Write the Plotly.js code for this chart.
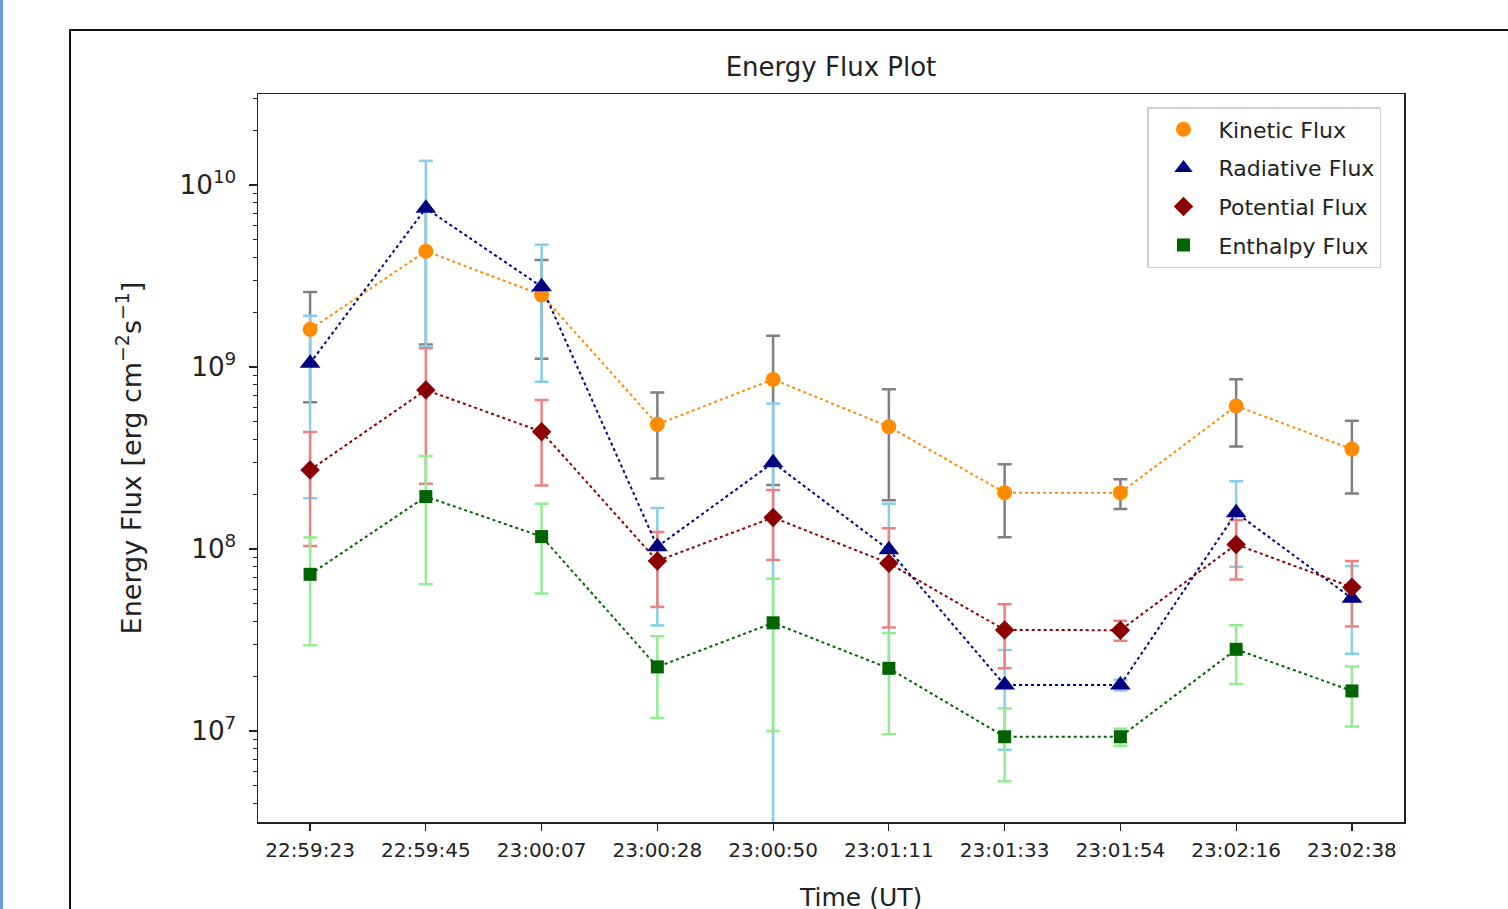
<!DOCTYPE html>
<html>
<head>
<meta charset="utf-8">
<script src="https://cdn.plot.ly/plotly-3.0.1.min.js"></script>
<style>html,body{margin:0;padding:0;background:#fff;}#chart{width:1508px;height:909px;}</style>
</head>
<body>
<div id="chart"></div>
<script>
// ---- data ----
const times = ['22:59:23','22:59:45','23:00:07','23:00:28','23:00:50','23:01:11','23:01:33','23:01:54','23:02:16','23:02:38'];

const kinetic      = [1.61e9, 4.33e9, 2.49e9, 4.84e8, 8.55e8, 4.70e8, 2.04e8, 2.04e8, 6.11e8, 3.54e8];
const kineticErr   = [0.97e9, 3.00e9, 1.38e9, 2.40e8, 6.30e8, 2.85e8, 0.88e8, 0.38e8, 2.45e8, 1.52e8];

const radiative    = [1.05e9, 7.45e9, 2.76e9, 1.03e8, 2.98e8, 9.90e7, 1.79e7, 1.79e7, 1.58e8, 5.36e7];
const radiativeErr = [0.86e9, 6.15e9, 1.93e9, 0.65e8, 3.33e8, 7.80e7, 1.00e7, 1.20e6, 0.78e8, 2.70e7];

const potential    = [2.72e8, 7.48e8, 4.41e8, 8.60e7, 1.49e8, 8.35e7, 3.59e7, 3.58e7, 1.06e8, 6.17e7];
const potentialErr = [1.68e8, 5.20e8, 2.18e8, 3.80e7, 6.20e7, 4.65e7, 1.38e7, 0.45e7, 0.38e8, 2.42e7];

const enthalpy     = [7.26e7, 1.94e8, 1.17e8, 2.25e7, 3.93e7, 2.21e7, 9.30e6, 9.30e6, 2.81e7, 1.66e7];
const enthalpyErr  = [4.30e7, 1.30e8, 6.00e7, 1.07e7, 2.93e7, 1.25e7, 4.00e6, 1.00e6, 1.00e7, 0.60e7];

const seriesNames = ['Kinetic Flux','Radiative Flux','Potential Flux','Enthalpy Flux'];

// ---- styles ----
const series = [
  {name: seriesNames[0], y: kinetic,   err: kineticErr,   color:'#FF8C00', ecolor:'#808080', symbol:'circle',      size:15},
  {name: seriesNames[1], y: radiative, err: radiativeErr, color:'#000080', ecolor:'#87CEEB', symbol:'triangle-up', size:18},
  {name: seriesNames[2], y: potential, err: potentialErr, color:'#8B0000', ecolor:'#F08080', symbol:'diamond',     size:15},
  {name: seriesNames[3], y: enthalpy,  err: enthalpyErr,  color:'#006400', ecolor:'#90EE90', symbol:'square',      size:13}
];

const data = [];
// error bars (all below lines and markers)
series.forEach(s => {
  data.push({
    type:'scatter', mode:'markers', x: times, y: s.y, showlegend:false, hoverinfo:'skip',
    marker:{size:2, opacity:0, color:s.color},
    error_y:{type:'data', array:s.err, visible:true, color:s.ecolor, thickness:2.5, width:7}
  });
});
// dotted connecting lines
series.forEach(s => {
  data.push({
    type:'scatter', mode:'lines', x: times, y: s.y, showlegend:false, hoverinfo:'skip',
    line:{color:s.color, width:2, dash:'dot'}
  });
});
// markers (legend entries)
series.forEach((s, i) => {
  data.push({
    type:'scatter', mode:'markers', x: times, y: s.y, name: s.name,
    legendgroup:'g'+i,
    marker:{symbol:s.symbol, size:s.size, color:s.color}
  });
});

const W = 1508, H = 909;
const L = 258, R = 1404, T = 94, B = 822;
const pw = R - L, ph = B - T;
const px = v => (v - L) / pw;
const py = v => (B - v) / ph;

const layout = {
  width: W, height: H,
  margin: {l: L, r: W - R, t: T, b: H - B},
  paper_bgcolor:'#ffffff', plot_bgcolor:'#ffffff',
  font: {family:'DejaVu Sans, sans-serif', color:'#222222'},
  title: {text:'Energy Flux Plot', font:{size:26, color:'#222222'}, x:0.5, xref:'paper', xanchor:'center',
          y: 1 - 67 / H, yref:'container', yanchor:'middle'},
  xaxis: {
    type:'category', range:[-0.45, 9.45], showgrid:false, zeroline:false,
    showline:true, mirror:true, linecolor:'#222222', linewidth:1.5,
    ticks:'outside', ticklen:7, tickwidth:1.2, tickcolor:'#222222',
    tickfont:{size:20}, ticklabelstandoff:2
  },
  yaxis: {
    type:'log', range:[6.5, 10.5], dtick:1, exponentformat:'power', showgrid:false, zeroline:false,
    showline:true, mirror:true, linecolor:'#222222', linewidth:1.5,
    ticks:'outside', ticklen:8, tickwidth:1.2, tickcolor:'#222222',
    tickfont:{size:21}, ticklabelstandoff:8,
    minor:{ticks:'outside', ticklen:4, tickwidth:1, tickcolor:'#222222', dtick:'D1', showgrid:false},
    title:{text:'Energy Flux [erg cm<sup>−2</sup>s<sup>−1</sup>]', font:{size:27}, standoff:30}
  },
  legend: {
    x: px(1147), y: py(107), xanchor:'left', yanchor:'top',
    bgcolor:'rgba(255,255,255,0.85)', bordercolor:'#d0d0d0', borderwidth:1.5,
    font:{size:22, color:'#222222'}, traceorder:'grouped', tracegroupgap:7,
    itemwidth:60
  },
  annotations: [
    {text:'Time (UT)', xref:'paper', yref:'paper', x: px(860), y: py(897), xanchor:'center', yanchor:'middle',
     showarrow:false, font:{size:25, color:'#222222'}}
  ],
  shapes: [
    {type:'rect', xref:'paper', yref:'paper', x0: px(70), x1: px(1515), y0: py(915), y1: py(30),
     line:{color:'#111111', width:2}, fillcolor:'rgba(0,0,0,0)', layer:'below'},
    {type:'rect', xref:'paper', yref:'paper', x0: px(0), x1: px(3), y0: py(915), y1: py(-5),
     line:{width:0}, fillcolor:'#6F9FDB', layer:'below'}
  ]
};

Plotly.newPlot('chart', data, layout, {displayModeBar:false, staticPlot:true});
</script>
</body>
</html>
